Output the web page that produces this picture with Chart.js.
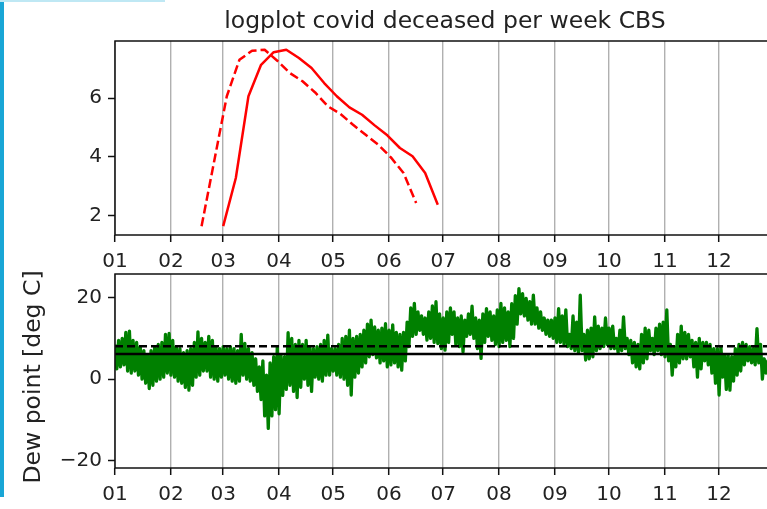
<!DOCTYPE html>
<html><head><meta charset="utf-8">
<script src="https://cdn.jsdelivr.net/npm/chart.js@4.4.1/dist/chart.umd.min.js"></script>
<style>
html,body{margin:0;padding:0;background:#fff;overflow:hidden;width:767px;height:509px;}
#wrap{position:relative;width:890px;height:509px;}
canvas{position:absolute;left:0;top:0;}
#edgeL{position:absolute;left:0;top:0;width:4px;height:497px;background:#19a6d6;}
#edgeT{position:absolute;left:0;top:0;width:165px;height:2px;background:#bfe8f4;}
</style></head><body>
<div id="wrap">
<canvas id="topChart" width="890" height="509"></canvas>
<canvas id="botChart" width="890" height="509"></canvas>
<div id="edgeL"></div><div id="edgeT"></div>
</div>
<script>
// ---- data ----
const monthStarts = [0,31,60,91,121,152,182,213,244,274,305,335];
const monthLabels = ['01','02','03','04','05','06','07','08','09','10','11','12'];
const covidTicks = [2,4,6];
const dewTicks = [-20,0,20];

const solidDays = [60,67,74,81,88,95,102,109,116,123,130,137,144,151,158,165,172,179];
const solidLog  = [1.64,3.28,6.06,7.13,7.56,7.64,7.36,7.02,6.51,6.06,5.68,5.43,5.07,4.73,4.30,4.02,3.45,2.37];
const dashedDays = [48,55,62,69,76,83,90,97,104,111,118,125,132,139,146,153,160,167];
const dashedLog  = [1.64,3.85,6.06,7.30,7.61,7.64,7.27,6.85,6.57,6.19,5.72,5.46,5.09,4.75,4.41,3.98,3.45,2.43];

const dewDays = [0,2,4,6,8,10,12,14,16,18,20,22,24,26,28,30,32,34,36,38,40,42,44,46,48,50,52,54,56,58,60,62,64,66,68,70,72,74,76,78,80,82,84,86,88,90,92,94,96,98,100,102,104,106,108,110,112,114,116,118,120,122,124,126,128,130,132,134,136,138,140,142,144,146,148,150,152,154,156,158,160,162,164,166,168,170,172,174,176,178,180,182,184,186,188,190,192,194,196,198,200,202,204,206,208,210,212,214,216,218,220,222,224,226,228,230,232,234,236,238,240,242,244,246,248,250,252,254,256,258,260,262,264,266,268,270,272,274,276,278,280,282,284,286,288,290,292,294,296,298,300,302,304,306,308,310,312,314,316,318,320,322,324,326,328,330,332,334,336,338,340,342,344,346,348,350,352,354,356,358,360,362,364];
const dewHigh = [8.5,9.5,10.0,11.5,11.8,9.5,9.0,8.0,7.0,6.0,7.0,8.0,8.5,9.0,11.0,11.2,9.5,8.0,7.5,6.5,7.0,7.5,9.0,11.6,10.0,9.0,10.5,9.5,8.0,7.5,8.0,7.5,8.0,7.5,7.0,11.0,8.8,7.5,6.5,5.0,3.0,4.5,1.0,4.0,5.5,8.0,6.0,5.5,11.4,10.0,8.5,9.5,8.5,9.5,8.0,7.5,8.0,8.5,9.5,10.8,7.5,7.5,8.5,10.0,10.5,12.0,10.0,10.5,11.0,12.0,13.5,14.5,12.8,12.0,12.5,13.6,12.0,13.3,11.5,11.0,11.5,14.0,17.5,18.6,16.5,15.5,15.0,16.5,18.0,19.0,16.0,15.0,16.5,17.5,16.5,15.0,15.5,14.5,16.0,17.9,15.0,14.5,16.0,17.3,16.5,15.5,17.0,18.6,17.5,16.5,18.5,20.5,22.2,21.0,19.8,19.0,20.6,17.5,16.5,15.0,14.5,14.5,15.0,17.3,15.5,17.0,11.0,15.5,14.0,20.6,11.0,12.0,12.5,15.3,13.0,12.5,15.0,12.5,13.0,10.0,12.0,15.3,10.0,9.5,9.0,8.5,11.0,12.5,12.0,10.0,12.5,13.5,14.0,17.0,8.5,8.0,11.0,13.0,11.5,11.0,9.5,9.0,10.0,9.0,9.0,8.5,7.5,7.5,8.0,6.0,6.0,5.5,7.5,8.5,9.0,8.5,8.0,7.5,12.4,8.5,5.0,4.5,5.0];
const dewLow  = [2.5,3.0,3.5,2.0,1.5,2.0,1.0,0.0,-1.0,-2.3,-1.5,-0.5,0.0,0.5,1.5,1.0,0.5,-0.5,-1.0,-2.0,-2.7,-1.5,0.5,1.0,2.0,2.0,0.5,0.0,-0.5,0.5,1.0,0.0,-0.5,-1.0,-0.5,1.0,0.0,-0.5,-1.5,-3.0,-5.0,-9.0,-12.1,-9.0,-7.5,-8.5,-4.0,-2.5,-1.5,-3.0,-4.5,-2.0,0.0,-1.5,-3.0,0.5,0.0,-0.5,1.0,1.0,2.0,1.0,0.5,0.0,-1.5,-3.9,0.5,1.5,3.0,4.0,5.5,6.0,5.2,4.0,4.5,3.0,3.5,4.0,3.0,2.2,4.5,8.0,10.5,11.0,12.0,11.0,9.6,10.0,9.0,8.75,7.5,7.1,9.0,11.0,8.5,8.0,6.7,10.5,11.0,10.0,7.5,5.1,9.0,10.5,9.5,8.5,8.0,9.0,9.5,8.0,10.0,13.5,16.0,15.5,14.5,13.5,13.5,12.5,12.0,11.0,10.5,10.0,9.0,9.0,8.5,8.0,7.5,7.0,6.5,7.0,4.7,5.0,5.5,7.0,7.5,8.0,8.5,7.5,7.5,6.5,7.0,7.5,6.0,4.0,3.0,2.5,4.0,5.0,7.0,6.0,7.0,6.0,5.5,4.5,1.0,3.0,4.0,5.0,5.0,5.5,3.0,0.5,2.5,4.5,3.5,1.5,-1.0,-3.9,0.5,-2.5,-2.7,-0.5,1.0,2.0,3.5,4.5,4.0,3.5,4.0,0.0,1.5,1.5,2.0];
const dewRefSolid = 6.2;
const dewRefDashed = 8.1;
const xMin = 0, xMax = 366;

// ---- styling helpers ----
const FONT = 'DejaVu Sans';
const frame = {id:'frame', afterDatasetsDraw(chart){
  const {ctx, chartArea:a} = chart;
  ctx.save(); ctx.strokeStyle = '#111'; ctx.lineWidth = 1.5;
  ctx.strokeRect(a.left, a.top, a.right - a.left, a.bottom - a.top);
  ctx.restore();
}};
// centre the Chart.js title over the plot area (as matplotlib does)
const titleOverPlot = {id:'titleOverPlot', afterLayout(chart){
  const t = chart.titleBlock;
  if (t) { t.left = chart.chartArea.left; t.right = chart.chartArea.right; t.width = t.right - t.left; }
}};
// nudge the y-axis title down a little
const yTitleNudge = {id:'yTitleNudge', afterLayout(chart){
  const s = chart.scales.y;
  if (s && !s._nudged) {
    const orig = s.drawTitle.bind(s);
    s.drawTitle = function(){ const c = this.ctx; c.save(); c.translate(0, 6); orig(); c.restore(); };
    s._nudged = true;
  }
}};
function xAxis(){
  return {
    type:'linear', min:xMin, max:xMax,
    afterBuildTicks: s => { s.ticks = monthStarts.map(v => ({value:v})); },
    afterFit: s => { s.height = 40; },
    grid:{color:'#b0b0b0', lineWidth:1.4, tickColor:'#111', tickLength:7, tickWidth:1.5},
    border:{display:false},
    ticks:{color:'#222', font:{family:FONT, size:20}, padding:8, maxRotation:0, autoSkip:false,
      callback: v => monthLabels[monthStarts.indexOf(v)]}
  };
}
function yAxis(mn, mx, tickVals, width){
  return {
    type:'linear', min:mn, max:mx,
    afterBuildTicks: s => { s.ticks = tickVals.map(v => ({value:v})); },
    afterFit: s => { s.width = width; },
    grid:{drawOnChartArea:false, tickColor:'#111', tickLength:7, tickWidth:1.5},
    border:{display:false},
    ticks:{color:'#222', font:{family:FONT, size:20}, padding:6,
      callback: v => (v < 0 ? '\u2212' + Math.abs(v) : String(v))}
  };
}
const common = {responsive:false, animation:false, devicePixelRatio:1,
  elements:{point:{radius:0}, line:{tension:0, borderJoinStyle:'round', borderCapStyle:'butt'}}};

// ---- top chart ----
new Chart(document.getElementById('topChart'), {
  type:'line',
  data:{datasets:[
    {data: solidDays.map((d,i)=>({x:d, y:solidLog[i]})), borderColor:'#ff0000', borderWidth:2.5},
    {data: dashedDays.map((d,i)=>({x:d, y:dashedLog[i]})), borderColor:'#ff0000', borderWidth:2.5, borderDash:[9,4]}
  ]},
  options:Object.assign({}, common, {
    layout:{padding:{left:55, right:115, top:0, bottom:234}},
    plugins:{legend:{display:false}, tooltip:{enabled:false},
      title:{display:true, text:'logplot covid deceased per week CBS', color:'#222',
        font:{family:FONT, size:23.5, weight:'normal'}, padding:{top:7.8, bottom:5}}},
    scales:{x:xAxis(), y:yAxis(1.34, 7.94, covidTicks, 60)}
  }),
  plugins:[frame, titleOverPlot]
});

// ---- bottom chart ----
const yb = yAxis(-21.8, 25.8, dewTicks, 100);
yb.title = {display:true, text:'Dew point [deg C]', color:'#222', font:{family:FONT, size:23.5}, padding:{top:5, bottom:0}};
new Chart(document.getElementById('botChart'), {
  type:'line',
  data:{datasets:[
    {data: dewDays.flatMap((d,i)=>[{x:d, y:dewHigh[i]}, {x:d+1, y:dewLow[i]}]), borderColor:'#008000', borderWidth:3.3, order:3},
    {data:[{x:xMin, y:dewRefSolid},{x:xMax, y:dewRefSolid}], borderColor:'#000', borderWidth:2.5, order:1},
    {data:[{x:xMin, y:dewRefDashed},{x:xMax, y:dewRefDashed}], borderColor:'#000', borderWidth:2.5, borderDash:[8,4], order:2}
  ]},
  options:Object.assign({}, common, {
    layout:{padding:{left:15, right:115, top:274, bottom:1}},
    plugins:{legend:{display:false}, tooltip:{enabled:false}},
    scales:{x:xAxis(), y:yb}
  }),
  plugins:[frame, yTitleNudge]
});
</script>
</body></html>
